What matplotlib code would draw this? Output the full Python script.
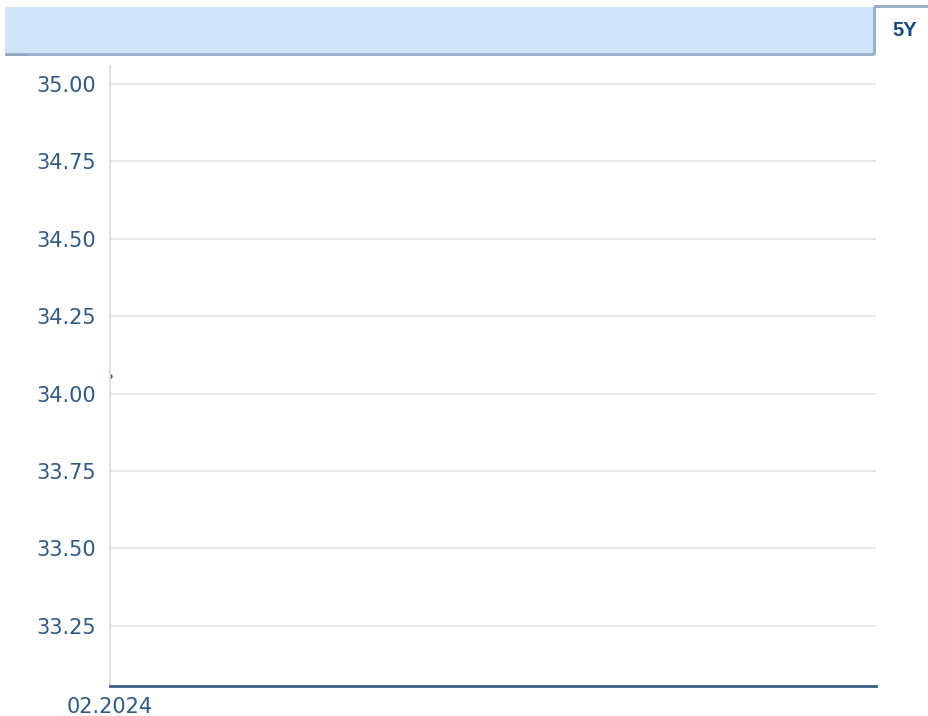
import matplotlib
matplotlib.use("Agg")
import matplotlib.pyplot as plt
import matplotlib.dates as mdates
import matplotlib.patches as mpatches
import numpy as np
import datetime as dt

# Data
dates = ["2024-02-01"]
values = [34.058]
y_ticks = [33.25, 33.50, 33.75, 34.00, 34.25, 34.50, 34.75, 35.00]
x_tick_labels = ["02.2024"]
range_label = "5Y"

W, H = 929, 716
fig = plt.figure(figsize=(W / 100, H / 100), dpi=100)
fig.patch.set_facecolor("white")

# Header bar
hdr = fig.add_axes([0, 0, 1, 1], zorder=0)
hdr.set_xlim(0, W)
hdr.set_ylim(H, 0)
hdr.axis("off")
hdr.add_patch(mpatches.Rectangle((5, 7), 869, 47, facecolor="#cfe4f7", edgecolor="none"))
hdr.plot([5, 874], [54, 54], color="#9ab0c8", lw=2.2, solid_capstyle="butt")
hdr.plot([5, 27], [55, 55], color="#8fa6bf", lw=1.2, solid_capstyle="butt")
hdr.plot([874, 874], [6, 54], color="#9ab0c8", lw=2.2, solid_capstyle="butt")
hdr.plot([874, 929], [6, 6], color="#9ab0c8", lw=2.2, solid_capstyle="butt")
hdr.text(905, 31, range_label, ha="center", va="center", fontsize=14.5,
         fontweight="bold", color="#174a7c", family="Liberation Sans")

# Main axes
left, right, top, bottom = 110, 876, 66, 686
ax = fig.add_axes([left / W, (H - bottom) / H, (right - left) / W, (bottom - top) / H], zorder=1)
ax.patch.set_alpha(0)

x = [mdates.date2num(dt.datetime.strptime(d, "%Y-%m-%d")) for d in dates]
ax.plot(x, values, color="#2f5d8c", lw=1.5, marker="o", markersize=2.2)

ax.set_xlim(x[0], x[0] + 1826)
ax.set_ylim(33.056, 35.058)
ax.set_yticks(y_ticks)
ax.set_yticklabels([f"{v:.2f}" for v in y_ticks])
ax.set_xticks([x[0]])
ax.set_xticklabels(x_tick_labels)

ax.grid(axis="y", color="#e3e3e3", lw=1.2)
ax.set_axisbelow(True)
for s in ["top", "right"]:
    ax.spines[s].set_visible(False)
ax.spines["left"].set_color("#dcdcdc")
ax.spines["left"].set_linewidth(1.2)
ax.spines["bottom"].set_color("#3b5f86")
ax.spines["bottom"].set_linewidth(2)

ax.tick_params(axis="y", length=0, pad=10, labelsize=15, labelcolor="#2f5a86")
ax.tick_params(axis="x", length=0, pad=8, labelsize=15, labelcolor="#2f5a86")

fig.savefig("out.png", dpi=100)
